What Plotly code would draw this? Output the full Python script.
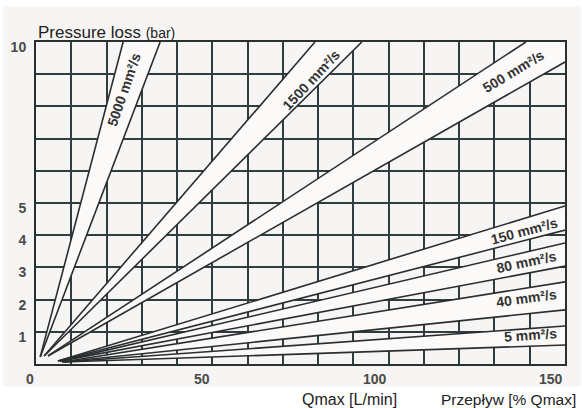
import plotly.graph_objects as go

# ---- axis ticks ----
x_grid = list(range(0, 151, 10))
x_tick_vals = [0, 50, 100, 150]
x_tick_text = ["0", "50", "100", "150"]
y_tick_vals = list(range(0, 11))
y_tick_text = ["", "1", "2", "3", "4", "5", "", "", "", "", "10"]

# ---- viscosity bands ----
band_names = ["5000 mm²/s", "1500 mm²/s", "500 mm²/s", "150 mm²/s",
              "80 mm²/s", "40 mm²/s", "5 mm²/s"]
band_start_x = [1.2, 2.3, 3.4, 6.2, 6.8, 7.4, 7.9]
band_start_y = [0.22, 0.25, 0.25, 0.09, 0.09, 0.06, 0.06]
band_upper_end_x = [24.7, 79.1, 138.9, 150, 150, 150, 150]
band_upper_end_y = [10, 10, 10, 4.91, 3.76, 2.55, 1.18]
band_lower_end_x = [35.2, 92.4, 150, 150, 150, 150, 150]
band_lower_end_y = [10, 10, 9.38, 4.16, 3.04, 1.68, 0.59]

label_x = [24.9, 78.0, 135.5, 138.4, 139.0, 139.2, 140.1]
label_y = [8.51, 8.82, 9.10, 4.13, 3.17, 2.05, 0.90]
label_angle = [-71, -47, -31, -15, -12, -8, -4]

GRID = "#2f3c40"
LINE = "#2a2e30"
FILL = "#fbfaf9"
FONT = "Liberation Sans, Arial"

fig = go.Figure()

# white band fills first
for i in range(len(band_names)):
    xs = [band_start_x[i], band_upper_end_x[i]]
    ys = [band_start_y[i], band_upper_end_y[i]]
    if band_upper_end_y[i] >= 10 and band_lower_end_x[i] >= 150 and band_lower_end_y[i] < 10:
        xs.append(150)
        ys.append(10)
    xs += [band_lower_end_x[i], band_start_x[i]]
    ys += [band_lower_end_y[i], band_start_y[i]]
    fig.add_trace(go.Scatter(x=xs, y=ys, mode="lines", fill="toself",
                             fillcolor=FILL, line=dict(width=0, color=FILL),
                             hoverinfo="skip", showlegend=False))

# band edges on top
for i in range(len(band_names)):
    fig.add_trace(go.Scatter(
        x=[band_start_x[i], band_upper_end_x[i], None, band_start_x[i], band_lower_end_x[i]],
        y=[band_start_y[i], band_upper_end_y[i], None, band_start_y[i], band_lower_end_y[i]],
        mode="lines", line=dict(color=LINE, width=1.6),
        name=band_names[i], showlegend=False))

annotations = []
for i in range(len(band_names)):
    annotations.append(dict(x=label_x[i], y=label_y[i], xref="x", yref="y",
                            text="<b>" + band_names[i] + "</b>", showarrow=False,
                            textangle=label_angle[i],
                            font=dict(family=FONT, size=14, color="#333")))

for v, t in zip(x_tick_vals, x_tick_text):
    annotations.append(dict(x=v, y=0, xref="x", yref="y", text="<b>" + t + "</b>",
                            showarrow=False,
                            xanchor="right", yanchor="top", yshift=-5, xshift=0,
                            font=dict(family=FONT, size=14, color="#4a4a4a")))

annotations.append(dict(x=0, y=1.03, xref="paper", yref="paper",
                        xanchor="left", yanchor="middle", showarrow=False,
                        text="Pressure loss <span style='font-size:14px'>(bar)</span>",
                        font=dict(family=FONT, size=17, color="#222")))
annotations.append(dict(x=0.592, y=-0.11, xref="paper", yref="paper",
                        xanchor="center", yanchor="middle", showarrow=False,
                        text="Qmax [L/min]",
                        font=dict(family=FONT, size=16, color="#222")))
annotations.append(dict(x=1.024, y=-0.11, xref="paper", yref="paper",
                        xanchor="right", yanchor="middle", showarrow=False,
                        text="Przepływ [% Qmax]",
                        font=dict(family=FONT, size=15.5, color="#222")))

fig.update_layout(
    width=582, height=408,
    margin=dict(l=36, r=17, t=42, b=44),
    paper_bgcolor="white",
    plot_bgcolor="#f8f6f4",
    annotations=annotations,
    shapes=[dict(type="rect", xref="paper", yref="paper", layer="below",
                 x0=-0.062, x1=1.03, y0=-0.07, y1=1.11,
                 fillcolor="#f6f5f3", line=dict(width=0))],
)
fig.update_xaxes(range=[0, 150], tickvals=x_grid, showticklabels=False, automargin=False,
                 showgrid=True, gridcolor=GRID, gridwidth=1.5, zeroline=False,
                 showline=True, linecolor="#2a2f30", linewidth=2, mirror=True, ticks="")
fig.update_yaxes(range=[0, 10], tickvals=y_tick_vals, automargin=False,
                 ticktext=["<b>" + t + "</b>" if t else "" for t in y_tick_text],
                 showgrid=True, gridcolor=GRID, gridwidth=1.5, zeroline=False,
                 showline=True, linecolor="#2a2f30", linewidth=2, mirror=True, ticks="",
                 ticklabelstandoff=5, ticklabelshift=5,
                 tickfont=dict(family=FONT, size=14, color="#4a4a4a"))

# remove the default page margin so the 582x408 figure fills the window exactly
fig.write_html("out.html",
               config={"displayModeBar": False},
               post_script="document.body.style.margin='0';document.body.style.overflow='hidden';")
